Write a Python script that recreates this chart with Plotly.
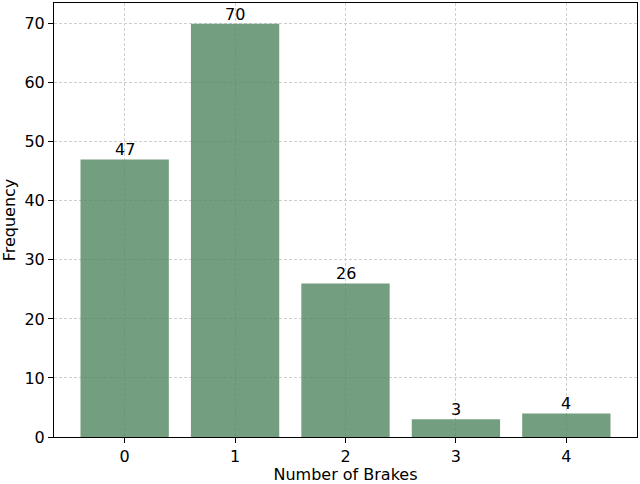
import plotly.graph_objects as go

brakes = [0, 1, 2, 3, 4]
counts = [47, 70, 26, 3, 4]

fig = go.Figure()
fig.add_trace(go.Bar(
    x=brakes, y=counts,
    width=0.8,
    marker=dict(color="rgba(81,134,96,0.8)", line=dict(width=0)),
))

# count labels sitting right on top of each bar
for b, c in zip(brakes, counts):
    fig.add_annotation(x=b, y=c, text=str(c), showarrow=False,
                       yanchor="bottom", yshift=-2,
                       font=dict(size=16, color="black"))

axis_style = dict(
    showgrid=True, gridcolor="#cfcfcf", griddash="3px,2px", gridwidth=0.8,
    showline=True, linecolor="black", linewidth=1, mirror=True,
    ticks="outside", ticklen=5, tickcolor="black",
    tickfont=dict(size=16, color="black"), zeroline=False,
)

fig.update_xaxes(range=[-0.64, 4.64], tickvals=brakes,
                 title=dict(text="Number of Brakes", font=dict(size=16, color="black"), standoff=4),
                 **axis_style)
fig.update_yaxes(range=[0, 73.5], dtick=10,
                 title=dict(text="Frequency", font=dict(size=16, color="black"), standoff=6),
                 **axis_style)

fig.update_layout(
    width=640, height=484,
    margin=dict(l=54, r=3, t=3, b=47),
    plot_bgcolor="white", paper_bgcolor="white",
    font=dict(family="DejaVu Sans", color="black"),
    showlegend=False, bargap=0.2,
)

# drop the page's default body margin so the figure sits at the window corner
fig.write_html("out.html", config={"displayModeBar": False},
               post_script="document.body.style.margin='0';")
